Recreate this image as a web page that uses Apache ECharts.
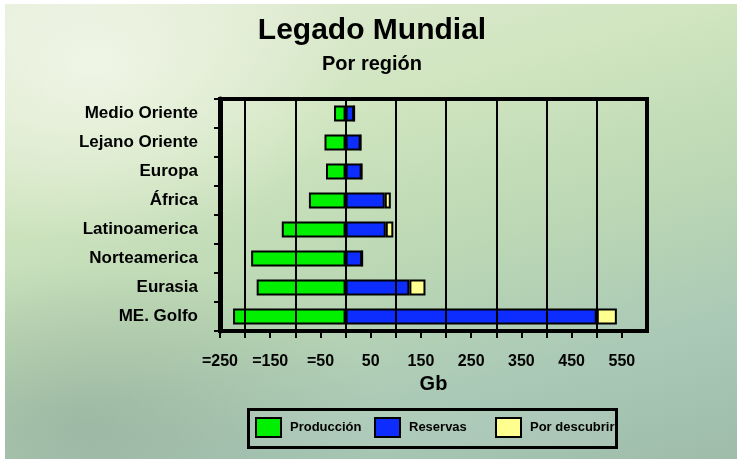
<!DOCTYPE html>
<html>
<head>
<meta charset="utf-8">
<script src="https://cdn.jsdelivr.net/npm/echarts@6/dist/echarts.min.js"></script>
<style>
  html, body { margin: 0; padding: 0; background: #fff; }
  .wrap { position: relative; width: 737px; height: 462px; overflow: hidden; }
  .bg {
    position: absolute; left: 5px; top: 4px; right: 0; bottom: 3px;
    background:
      radial-gradient(ellipse 260px 180px at 90px 60px, rgba(242,246,232,0.9), rgba(242,246,232,0) 100%),
      radial-gradient(ellipse 300px 160px at 80px 420px, rgba(140,165,150,0.55), rgba(140,165,150,0) 100%),
      linear-gradient(165deg, #e3ecd7 0%, #d0e5c0 30%, #bcd8b4 55%, #a9c8b6 80%, #9fbcaa 100%);
  }
  #chart { position: absolute; left: 0; top: 0; width: 737px; height: 462px; }
</style>
</head>
<body>
<div class="wrap">
  <div class="bg"></div>
  <div id="chart"></div>
</div>
<script>
const regions = ["Medio Oriente", "Lejano Oriente", "Europa", "África", "Latinoamerica", "Norteamerica", "Eurasia", "ME. Golfo"];
const produccion = [-23, -42, -39, -73, -127, -188, -177, -224];
const reservas = [17, 30, 32, 78, 80, 33, 127, 500];
const porDescubrir = [0, 0, 0, 12, 15, 0, 32, 40];

const labelValues = [-250, -150, -50, 50, 150, 250, 350, 450, 550];
const labelTexts = ["=250", "=150", "=50", "50", "150", "250", "350", "450", "550"];
const tickValues = [-250, -200, -150, -100, -50, 0, 50, 100, 150, 200, 250, 300, 350, 400, 450, 500, 550];
const gridValues = [-200, -100, 0, 100, 200, 300, 400, 500];

const seriesNames = ["Producción", "Reservas", "Por descubrir"];
const seriesColors = ["#00f000", "#0d2dff", "#ffff90"];

const font = "'Liberation Sans', Arial, sans-serif";

const chart = echarts.init(document.getElementById("chart"));

const barStyle = color => ({
  color: color,
  borderColor: "#000",
  borderWidth: 2
});

const legendLefts = [255, 374, 495];
const legends = seriesNames.map((name, i) => ({
  data: [name],
  left: legendLefts[i],
  top: 417,
  padding: 0,
  itemWidth: 25,
  itemHeight: 19,
  icon: "rect",
  textStyle: {
    fontSize: 13, fontWeight: "bold", color: "#000", fontFamily: font,
    padding: [0, 0, 0, 4], width: 88, overflow: "truncate", ellipsis: ""
  }
}));

// vertical grid lines sit on top of the bars in the original
const gridLines = {
  silent: true,
  symbol: "none",
  z: 10,
  zlevel: 1,
  animation: false,
  label: { show: false },
  lineStyle: { color: "#000", width: 2, type: "solid" },
  emphasis: { disabled: true },
  data: gridValues.map(v => ({ xAxis: v }))
};

const series = [produccion, reservas, porDescubrir].map((values, i) => ({
  name: seriesNames[i],
  type: "bar",
  stack: "total",
  z: 1,
  barWidth: 16,
  data: values,
  itemStyle: barStyle(seriesColors[i])
}));
series[2].markLine = gridLines;

chart.setOption({
  backgroundColor: "transparent",
  textStyle: { fontFamily: font },
  animation: false,
  title: {
    text: "Legado Mundial",
    subtext: "Por región",
    left: 367,
    textAlign: "center",
    top: 11,
    itemGap: 8,
    textStyle: { fontSize: 30, fontWeight: "bold", color: "#000", fontFamily: font },
    subtextStyle: { fontSize: 20, fontWeight: "bold", color: "#000", fontFamily: font }
  },
  legend: legends,
  graphic: [
    {
      type: "rect",
      left: 247,
      top: 408,
      shape: { width: 368, height: 38 },
      style: { fill: "rgba(255,255,255,0.08)", stroke: "#000", lineWidth: 3 },
      z: -1
    }
  ],
  grid: {
    left: 220,
    right: 90,
    top: 99,
    bottom: 131,
    show: true,
    borderColor: "#000",
    borderWidth: 4
  },
  xAxis: {
    type: "value",
    min: -250,
    max: 600,
    name: "Gb",
    nameLocation: "middle",
    nameGap: 43,
    nameTextStyle: { fontSize: 20, fontWeight: "bold", color: "#000", fontFamily: font },
    axisLine: { show: true, onZero: false, lineStyle: { color: "#000", width: 4 } },
    axisTick: { show: true, customValues: tickValues, length: 7, lineStyle: { color: "#000", width: 2 } },
    axisLabel: {
      customValues: labelValues,
      margin: 23,
      fontSize: 16,
      fontWeight: "bold",
      color: "#000",
      fontFamily: font,
      formatter: v => labelTexts[labelValues.indexOf(v)] ?? ""
    },
    splitLine: { show: false }
  },
  yAxis: {
    type: "category",
    data: regions,
    inverse: true,
    axisLine: { show: true, onZero: false, lineStyle: { color: "#000", width: 5 } },
    axisTick: { show: true, length: 6, lineStyle: { color: "#000", width: 2 } },
    axisLabel: { margin: 22, fontSize: 17, fontWeight: "bold", color: "#000", fontFamily: font },
    splitLine: { show: false }
  },
  series: series
});
</script>
</body>
</html>
